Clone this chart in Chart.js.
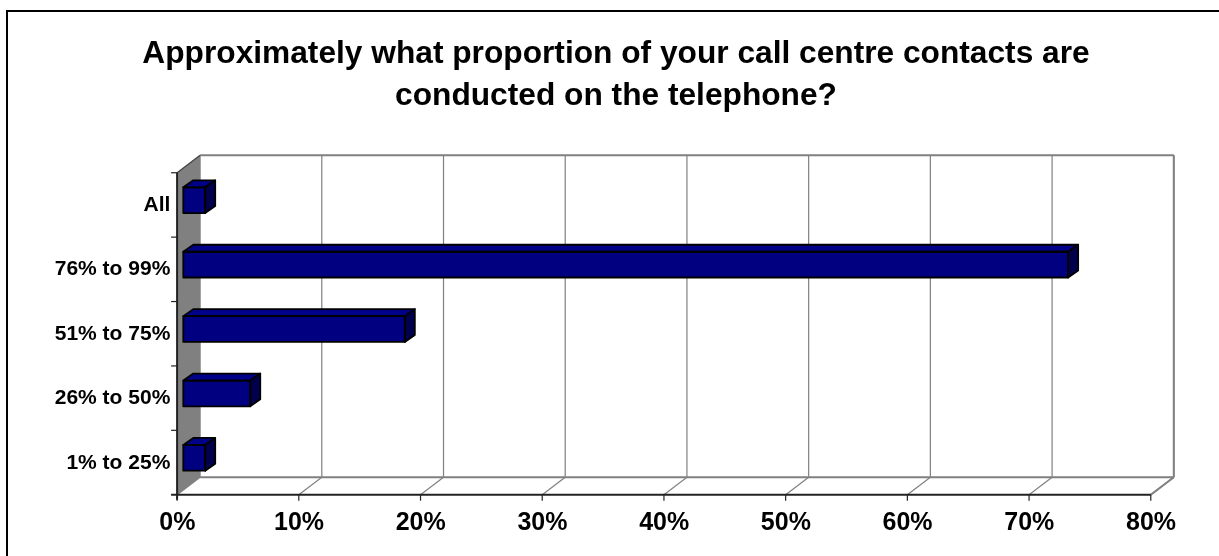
<!DOCTYPE html>
<html>
<head>
<meta charset="utf-8">
<script src="https://cdn.jsdelivr.net/npm/chart.js@4/dist/chart.umd.min.js"></script>
<style>
  html, body { margin: 0; padding: 0; background: #fff; }
  #chart { display: block; }
</style>
</head>
<body>
<canvas id="chart" width="1219" height="556"></canvas>
<script>
// Survey answers, bottom to top
const categories = ['1% to 25%', '26% to 50%', '51% to 75%', '76% to 99%', 'All'];
const shares = [1.8, 5.5, 18.2, 72.7, 1.8];
const titleLines = [
  'Approximately what proportion of your call centre contacts are',
  'conducted on the telephone?'
];

const FONT = "'Liberation Sans', Arial, sans-serif";
const NAVY = '#000080';

// 3D look: full depth of the plot box, where the bars sit in it, and how deep they are
const DEPTH = { dx: 23, dy: -17.5 };
const BAR_AT = 0.27;
const BAR_DEPTH = { dx: 10, dy: -7 };
// title is centred on the whole frame, not on the space left of the right margin
const TITLE_SHIFT = 37.5;

function line(ctx, x1, y1, x2, y2) {
  ctx.beginPath();
  ctx.moveTo(x1, y1);
  ctx.lineTo(x2, y2);
  ctx.stroke();
}

const box3d = {
  id: 'box3d',
  afterLayout(chart) {
    if (chart.titleBlock) {
      chart.titleBlock.left += TITLE_SHIFT;
      chart.titleBlock.right += TITLE_SHIFT;
    }
  },
  beforeDraw(chart) {
    const ctx = chart.ctx;
    ctx.save();
    ctx.fillStyle = '#fff';
    ctx.fillRect(0, 0, chart.width, chart.height);
    // frame
    ctx.strokeStyle = '#000';
    ctx.lineWidth = 2;
    ctx.beginPath();
    ctx.moveTo(7, chart.height);
    ctx.lineTo(7, 11);
    ctx.lineTo(chart.width, 11);
    ctx.stroke();
    ctx.restore();
  },
  beforeDatasetsDraw(chart) {
    const ctx = chart.ctx;
    const xs = chart.scales.x;
    const area = chart.chartArea;
    const fx = -BAR_AT * DEPTH.dx, fy = -BAR_AT * DEPTH.dy;
    const bx = (1 - BAR_AT) * DEPTH.dx, by = (1 - BAR_AT) * DEPTH.dy;
    const ticks = xs.ticks.map(t => t.value);
    const x0 = xs.getPixelForValue(xs.min);
    const x1 = xs.getPixelForValue(xs.max);
    const frontBottom = area.bottom + fy, frontTop = area.top + fy;
    const backBottom = area.bottom + by, backTop = area.top + by;

    ctx.save();
    ctx.lineCap = 'butt';

    // back wall grid
    ctx.strokeStyle = '#808080';
    ctx.lineWidth = 1.2;
    ticks.forEach(v => {
      const px = xs.getPixelForValue(v) + bx;
      line(ctx, px, backTop, px, backBottom);
    });
    // floor grid
    ticks.forEach(v => {
      const px = xs.getPixelForValue(v);
      line(ctx, px + fx, frontBottom, px + bx, backBottom);
    });
    ctx.lineWidth = 2;
    line(ctx, x0 + bx, backTop, x1 + bx, backTop);
    line(ctx, x1 + bx, backTop, x1 + bx, backBottom);
    line(ctx, x0 + bx, backBottom, x1 + bx, backBottom);
    line(ctx, x1 + fx, frontBottom, x1 + bx, backBottom);

    // left side wall
    ctx.fillStyle = '#808080';
    ctx.beginPath();
    ctx.moveTo(x0 + fx, frontTop);
    ctx.lineTo(x0 + bx, backTop);
    ctx.lineTo(x0 + bx, backBottom);
    ctx.lineTo(x0 + fx, frontBottom);
    ctx.closePath();
    ctx.fill();
    ctx.strokeStyle = '#404040';
    ctx.lineWidth = 1.2;
    line(ctx, x0 + fx, frontTop, x0 + bx, backTop);

    // front axis lines and tick marks
    ctx.strokeStyle = '#222';
    ctx.lineWidth = 2;
    line(ctx, x0 + fx - 6, frontBottom, x1 + fx, frontBottom);
    line(ctx, x0 + fx, frontTop, x0 + fx, frontBottom + 5);
    ctx.lineWidth = 1.2;
    ticks.forEach(v => {
      const px = xs.getPixelForValue(v) + fx;
      line(ctx, px, frontBottom, px, frontBottom + 6);
    });
    const step = (area.bottom - area.top) / categories.length;
    for (let i = 0; i < categories.length; i++) {
      const py = area.top + i * step + fy;
      line(ctx, x0 + fx - 6, py, x0 + fx, py);
    }
    ctx.restore();
  },
  afterDatasetsDraw(chart) {
    const ctx = chart.ctx;
    const meta = chart.getDatasetMeta(0);
    ctx.save();
    ctx.strokeStyle = '#000';
    ctx.lineWidth = 1.8;
    ctx.lineJoin = 'round';
    meta.data.forEach(bar => {
      const p = bar.getProps(['x', 'y', 'base', 'height'], true);
      const left = p.base, right = p.x;
      const top = p.y - p.height / 2, bottom = p.y + p.height / 2;
      const dx = BAR_DEPTH.dx, dy = BAR_DEPTH.dy;
      // top face
      ctx.fillStyle = '#000088';
      ctx.beginPath();
      ctx.moveTo(left, top);
      ctx.lineTo(left + dx, top + dy);
      ctx.lineTo(right + dx, top + dy);
      ctx.lineTo(right, top);
      ctx.closePath();
      ctx.fill();
      ctx.stroke();
      // end face
      ctx.fillStyle = '#00004d';
      ctx.beginPath();
      ctx.moveTo(right, top);
      ctx.lineTo(right + dx, top + dy);
      ctx.lineTo(right + dx, bottom + dy);
      ctx.lineTo(right, bottom);
      ctx.closePath();
      ctx.fill();
      ctx.stroke();
      // front outline
      ctx.strokeRect(left, top, right - left, bottom - top);
    });
    ctx.restore();
  }
};

new Chart(document.getElementById('chart'), {
  type: 'bar',
  data: {
    labels: categories,
    datasets: [{
      data: shares,
      backgroundColor: NAVY,
      borderColor: '#000',
      borderWidth: 0,
      barPercentage: 0.4,
      categoryPercentage: 1
    }]
  },
  options: {
    indexAxis: 'y',
    responsive: false,
    animation: false,
    layout: { padding: { left: 0, right: 62, top: 0, bottom: 0 } },
    plugins: {
      legend: { display: false },
      tooltip: { enabled: false },
      title: {
        display: true,
        text: titleLines,
        color: '#000',
        font: { family: FONT, size: 31.7, weight: 'bold', lineHeight: 1.3 },
        padding: { top: 34, bottom: 51.6 }
      }
    },
    scales: {
      x: {
        min: 0,
        max: 80,
        grid: { display: false, drawTicks: false },
        border: { display: false },
        ticks: {
          stepSize: 10,
          padding: 18,
          labelOffset: -6,
          color: '#000',
          font: { family: FONT, size: 25, weight: 'bold' },
          callback: v => v + '%'
        },
        afterFit: s => { s.height = 66; }
      },
      y: {
        reverse: true,
        grid: { display: false, drawTicks: false },
        border: { display: false },
        ticks: {
          padding: 13,
          labelOffset: 5,
          color: '#000',
          font: { family: FONT, size: 21, weight: 'bold' }
        },
        afterFit: s => { s.width = 183.3; }
      }
    }
  },
  plugins: [box3d]
});
</script>
</body>
</html>
